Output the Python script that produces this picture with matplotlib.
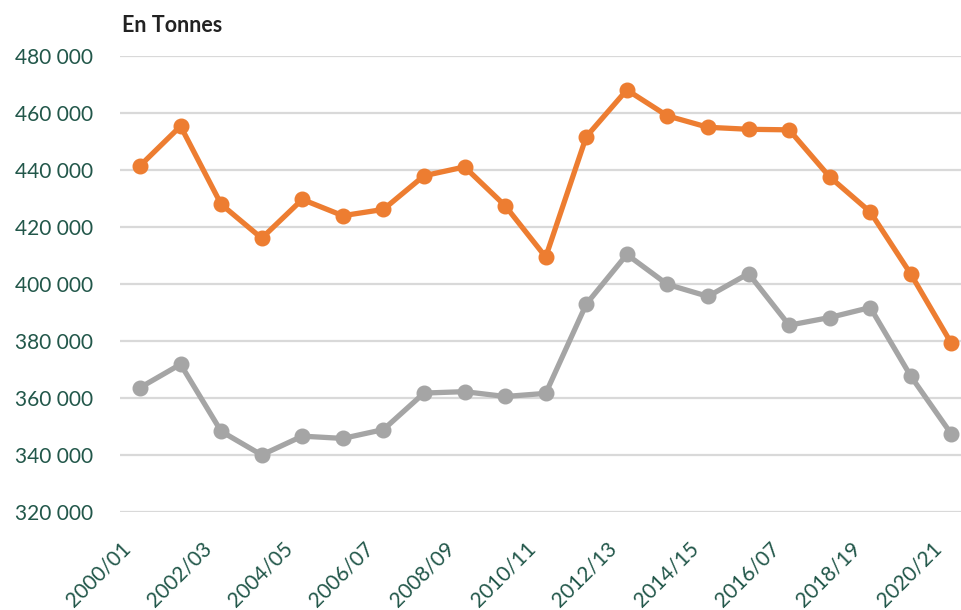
import matplotlib
matplotlib.use("Agg")
import matplotlib.pyplot as plt
import matplotlib.transforms as mtransforms

# campagnes (only every other label is shown on the axis)
seasons = ["2000/01", "2001/02", "2002/03", "2003/04", "2004/05", "2005/06",
           "2006/07", "2007/08", "2008/09", "2009/10", "2010/11", "2011/12",
           "2012/13", "2013/14", "2014/15", "2015/16", "2016/07", "2017/18",
           "2018/19", "2019/20", "2020/21"]

orange_vals = [441400, 455300, 427900, 416000, 429600, 423900, 426100,
               437900, 441000, 427400, 409400, 451600, 468000, 458900,
               454900, 454200, 454000, 437500, 425200, 403400, 379100]

grey_vals = [363600, 371800, 348300, 340000, 346600, 345800, 348900,
             361700, 362200, 360500, 361600, 392900, 410300, 399800,
             395600, 403600, 385500, 388200, 391700, 367600, 347300]

yticks = [320000, 340000, 360000, 380000, 400000, 420000, 440000, 460000, 480000]

ORANGE = "#ED7D31"
GREY = "#A5A5A5"
TXT = "#22574A"

plt.rcParams["font.family"] = ["Lato", "DejaVu Sans"]

fig = plt.figure(figsize=(9.61, 6.10), dpi=100)
ax = fig.add_axes([119.7 / 961, 98 / 610, 852 / 961, 456.3 / 610])

x = list(range(len(seasons)))
ax.plot(x, grey_vals, color=GREY, lw=3.8, marker="o", ms=10.5, solid_joinstyle="round", zorder=3)
ax.plot(x, orange_vals, color=ORANGE, lw=3.8, marker="o", ms=10.5, solid_joinstyle="round", zorder=4)

ax.set_xlim(-0.5, len(seasons) - 0.5)
ax.set_ylim(320000, 480000)
ax.set_yticks(yticks)
ax.set_yticklabels([f"{v:,}".replace(",", " ") for v in yticks])
ax.set_xticks(x[::2])
ax.set_xticklabels(seasons[::2], rotation=45, ha="right", va="center", rotation_mode="anchor")

ax.grid(axis="y", color="#D9D9D9", lw=1.6)
ax.set_axisbelow(True)
for s in ax.spines.values():
    s.set_visible(False)
ax.tick_params(axis="both", length=0, labelsize=15, labelcolor=TXT)
ax.tick_params(axis="y", pad=19)
ax.tick_params(axis="x", pad=24)

# shift the rotated labels a bit left like the original
shift = mtransforms.ScaledTranslation(-13 / 100, 0, fig.dpi_scale_trans)
for lab in ax.get_xticklabels():
    lab.set_transform(lab.get_transform() + shift)

fig.text(122 / 961, 1 - 26 / 610, "En Tonnes", fontsize=15.5, fontweight="bold",
         color="#222222", va="center", ha="left")

fig.savefig("out.png", dpi=100)
